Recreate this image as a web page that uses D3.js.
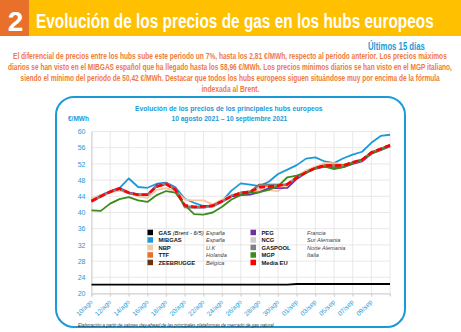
<!DOCTYPE html>
<html lang="es">
<head>
<meta charset="UTF-8">
<title>Evolución de los precios de gas en los hubs europeos</title>
<script src="https://d3js.org/d3.v7.min.js"></script>
<style>
  body { margin: 0; background: #fff; font-family: 'Liberation Sans', Arial, sans-serif; }
  svg { display: block; }
</style>
</head>
<body>
<svg id="chart" width="461" height="332"></svg>
<script>
// días del eje x (10/ago -> 11/sep)
const dias = ["10/ago","11/ago","12/ago","13/ago","14/ago","15/ago","16/ago","17/ago","18/ago","19/ago","20/ago",
  "21/ago","22/ago","23/ago","24/ago","25/ago","26/ago","27/ago","28/ago","29/ago","30/ago","31/ago",
  "01/sep","02/sep","03/sep","04/sep","05/sep","06/sep","07/sep","08/sep","09/sep","10/sep","11/sep"];
const yTicks = [20, 24, 28, 32, 36, 40, 44, 48, 52, 56, 60];

// €/MWh por hub
const gas = [22.2,22.2,22.2,22.2,22.2,22.2,22.2,22.2,22.2,22.2,22.2,22.2,22.2,22.2,22.2,22.2,22.2,22.2,22.2,22.2,22.2,22.2,
  22.35,22.35,22.35,22.35,22.35,22.35,22.35,22.35,22.35,22.35,22.35];
const mibgas = [43.2,44.3,45.2,46.0,48.4,46.3,46.1,47.1,47.4,46.2,43.4,42.4,41.6,41.6,42.8,45.4,47.2,46.9,46.5,47.6,49.5,50.6,
  51.7,53.3,53.6,52.6,52.2,53.4,54.3,55.0,57.2,58.9,59.2];
const nbp = [43.5,44.3,45.0,45.4,44.8,44.0,43.6,45.6,46.0,45.3,43.2,43.0,43.0,42.0,43.2,44.3,45.0,45.2,45.5,45.5,45.3,46.8,
  49.0,50.4,51.3,52.2,52.2,51.8,52.4,53.0,54.8,55.7,56.5];
const ttf = [42.9,44.1,45.2,45.8,44.8,44.3,44.3,46.5,47.1,45.7,41.6,41.3,41.4,41.6,42.7,44.0,44.9,45.2,46.4,46.6,46.7,47.0,
  48.7,50.0,51.1,51.7,51.8,51.6,52.4,53.1,54.9,55.8,56.7];
const zeebrugge = [42.9,44.0,45.1,45.8,44.8,44.4,44.4,46.4,47.0,45.6,41.5,41.4,41.5,41.7,42.8,44.1,44.8,45.1,46.9,46.9,46.9,46.9,
  48.6,49.9,51.0,51.6,51.5,51.6,52.4,53.0,54.8,55.7,56.6];
const peg = [42.7,44.0,45.2,46.1,44.9,44.5,44.5,46.8,47.3,46.0,41.4,41.2,41.2,41.5,42.6,44.0,44.3,44.4,45.0,46.0,46.0,46.1,
  48.3,49.8,50.8,51.3,51.0,51.2,52.0,52.6,54.5,55.4,56.3];
const ncg = [42.6,43.9,45.0,45.8,44.7,44.3,44.3,46.6,47.2,45.8,41.3,41.2,41.3,41.5,42.7,44.2,44.9,45.2,46.5,46.8,46.9,47.0,
  48.7,50.0,51.0,51.5,51.4,51.5,52.3,52.9,54.7,55.6,56.5];
const gaspool = [42.6,43.9,45.0,45.8,44.7,44.3,44.3,46.6,47.2,45.8,41.3,41.2,41.3,41.5,42.7,44.2,44.9,45.2,46.8,46.8,46.8,46.8,
  48.7,50.0,51.0,51.5,51.4,51.5,52.3,52.9,54.7,55.6,56.5];
const mgp = [40.5,40.4,42.2,43.3,43.8,43.0,42.6,44.3,45.3,44.9,41.8,39.6,39.5,40.0,41.4,43.2,44.3,44.9,45.0,45.6,46.5,48.7,
  49.1,49.8,51.0,51.4,50.7,51.2,52.2,53.0,54.5,55.5,56.5];
const mediaEU = [42.8,44.0,45.1,45.9,44.9,44.4,44.4,46.4,47.0,45.6,41.8,41.4,41.5,41.7,42.8,44.0,44.8,45.1,46.2,46.4,46.6,47.0,
  48.6,49.9,51.0,51.6,51.6,51.6,52.4,53.0,54.8,55.7,56.6];

const nombres = ["GAS", "MIBGAS", "NBP", "TTF", "ZEEBRUGGE", "PEG", "NCG", "GASPOOL", "MGP", "Media EU"];
const paises = ["España", "España", "U.K", "Holanda", "Bélgica", "Francia", "Sur Alemania", "Norte Alemania", "Italia", ""];

const colores = ["#000000", "#1b9ad7", "#f8c5a5", "#e8702a", "#6b3410", "#7030a0", "#cccccc", "#808080", "#3d8a1f", "#ff0000"];
const series = [gas, mibgas, nbp, ttf, zeebrugge, peg, ncg, gaspool, mgp, mediaEU]
  .map((v, i) => ({ nombre: nombres[i], pais: paises[i], color: colores[i], valores: v }));

const azul = "#1b9ad7";
const svg = d3.select("#chart");

// ajusta el ancho de un texto con una escala horizontal
function ajustar(sel, x, y, ancho, anchor) {
  sel.each(function() {
    const t = d3.select(this);
    const w = this.getComputedTextLength();
    const k = Math.min(1, ancho / w);
    const dx = anchor === "middle" ? -ancho / 2 : 0;
    t.attr("x", 0).attr("y", 0)
      .attr("transform", `translate(${x + dx},${y}) scale(${k},1)`);
  });
}

// cabecera
svg.append("rect").attr("x", 0).attr("y", 0).attr("width", 29).attr("height", 36).attr("fill", "#e8702a");
svg.append("rect").attr("x", 29).attr("y", 0).attr("width", 432).attr("height", 36).attr("fill", "#ffc000");
svg.append("text").attr("x", 15.5).attr("y", 30.5).attr("text-anchor", "middle")
  .style("font-family", "'Liberation Sans Narrow', 'Liberation Sans', sans-serif")
  .style("font-size", "28px").style("font-weight", "bold").attr("fill", "#fff").text("2");
svg.append("text")
  .style("font-family", "'Liberation Sans Narrow', 'Liberation Sans', sans-serif")
  .style("font-size", "21px").style("font-weight", "bold").attr("fill", "#fff")
  .text("Evolución de los precios de gas en los hubs europeos")
  .call(ajustar, 36, 27.5, 398);

// texto
svg.append("text")
  .style("font-size", "10.5px").style("font-weight", "bold").attr("fill", azul).text("Últimos 15 días")
  .call(ajustar, 368, 49.5, 57);

const parrafo = [
  { t: "El diferencial de precios entre los hubs sube este periodo un 7%, hasta los 2,81 €/MWh, respecto al periodo anterior. Los precios máximos", w: 435 },
  { t: "diarios se han visto en el MIBGAS español que ha llegado hasta los 58,96 €/MWh. Los precios mínimos diarios se han visto en el MGP italiano,", w: 445 },
  { t: "siendo el mínimo del periodo de 50,42 €/MWh. Destacar que todos los hubs europeos siguen situándose muy por encima de la fórmula", w: 420 },
  { t: "indexada al Brent.", w: 58 }
];
parrafo.forEach((d, i) => {
  svg.append("text")
    .style("font-family", "'Liberation Sans Narrow', 'Liberation Sans', sans-serif")
    .style("font-size", "9px").style("font-weight", "bold").attr("fill", "#ef7b3b")
    .text(d.t)
    .call(ajustar, 230.5, 58.5 + i * 11, d.w, "middle");
});

// marco del gráfico
svg.append("rect").attr("x", 56).attr("y", 97).attr("width", 349).attr("height", 230).attr("rx", 18)
  .attr("fill", "#fff").attr("stroke", azul).attr("stroke-width", 2);

svg.append("text")
  .style("font-size", "8px").style("font-weight", "bold").attr("fill", azul)
  .text("Evolución de los precios de los principales hubs europeos")
  .call(ajustar, 229, 110.5, 188, "middle");
svg.append("text")
  .style("font-size", "8px").style("font-weight", "bold").attr("fill", azul)
  .text("10 agosto 2021 – 10 septiembre 2021")
  .call(ajustar, 229.5, 121, 116, "middle");
svg.append("text")
  .style("font-size", "7px").style("font-weight", "bold").attr("fill", azul).text("€/MWh")
  .call(ajustar, 68, 121, 21);

// escalas
const x = d3.scaleLinear().domain([0, dias.length - 1]).range([91.5, 390]);
const y = d3.scaleLinear().domain([20, 60]).range([293.5, 131.5]);
const xGrid = d3.range(0, dias.length, 2);
const xTicks = xGrid.filter(i => i < dias.length - 2);

const grid = svg.append("g");
grid.selectAll(".h").data(yTicks).enter().append("line")
  .attr("x1", x(0)).attr("x2", x(dias.length - 1))
  .attr("y1", d => y(d)).attr("y2", d => y(d))
  .attr("stroke", "#e2e2e2").attr("stroke-width", 0.8);
grid.selectAll(".v").data(xGrid).enter().append("line")
  .attr("x1", d => x(d)).attr("x2", d => x(d))
  .attr("y1", y(60)).attr("y2", y(20) + 3)
  .attr("stroke", "#e2e2e2").attr("stroke-width", 0.8);

const yAxis = svg.append("g").attr("transform", `translate(${x(0)},0)`)
  .call(d3.axisLeft(y).tickValues(yTicks).tickSize(0).tickPadding(6));
yAxis.select(".domain").attr("stroke", "#d0d0d0");
yAxis.selectAll("text").style("font-size", "7px").style("font-family", "'Liberation Sans', Arial, sans-serif").attr("fill", azul);

const xAxis = svg.append("g").attr("transform", `translate(0,${y(20)})`)
  .call(d3.axisBottom(x).tickValues(xTicks).tickFormat(i => dias[i]).tickSize(3));
xAxis.select(".domain").attr("stroke", "#d0d0d0");
xAxis.selectAll("line").attr("stroke", "#d0d0d0");
xAxis.selectAll("text")
  .style("font-size", "6.5px").style("font-family", "'Liberation Sans', Arial, sans-serif").attr("fill", azul)
  .attr("text-anchor", "end").attr("dy", null).attr("y", 0)
  .attr("transform", "translate(1,9) rotate(-45)");

// leyenda
const leyenda = svg.append("g").selectAll("g").data(series).enter().append("g")
  .attr("transform", (d, i) => `translate(${i < 5 ? 147.5 : 250.5},${232.5 + (i % 5) * 7.5})`);
leyenda.append("rect").attr("x", 0).attr("y", -2.8).attr("width", 5.5).attr("height", 5.5).attr("fill", d => d.color);
const etiq = leyenda.append("text").attr("x", 11).attr("y", 2.2)
  .style("font-size", "5.8px").style("font-weight", "bold").attr("fill", "#111");
etiq.append("tspan").text(d => d.nombre);
etiq.filter(d => d.nombre === "GAS").append("tspan")
  .style("font-weight", "normal").style("font-style", "italic").text(" (Brent - 6/5)");
leyenda.append("text").attr("x", (d, i) => i < 5 ? 58.5 : 56.5).attr("y", 2.2)
  .style("font-size", "5.6px").style("font-style", "italic").attr("fill", "#444")
  .text(d => d.pais);

// líneas
const linea = d3.line().x((d, i) => x(i)).y(d => y(d));
svg.append("g").selectAll("path").data(series).enter().append("path")
  .attr("d", d => linea(d.valores))
  .attr("fill", "none")
  .attr("stroke", d => d.color)
  .attr("stroke-width", d => d.nombre === "Media EU" ? 2.6 : 1.8)
  .attr("stroke-dasharray", d => d.nombre === "Media EU" ? "6,3" : null)
  .attr("stroke-linejoin", "round");

// nota
svg.append("text")
  .style("font-size", "5.3px").style("font-style", "italic").attr("fill", "#333")
  .text("Elaboración a partir de valores day-ahead de las principales plataformas de mercado de gas natural")
  .call(ajustar, 78, 327, 196);
</script>
</body>
</html>
